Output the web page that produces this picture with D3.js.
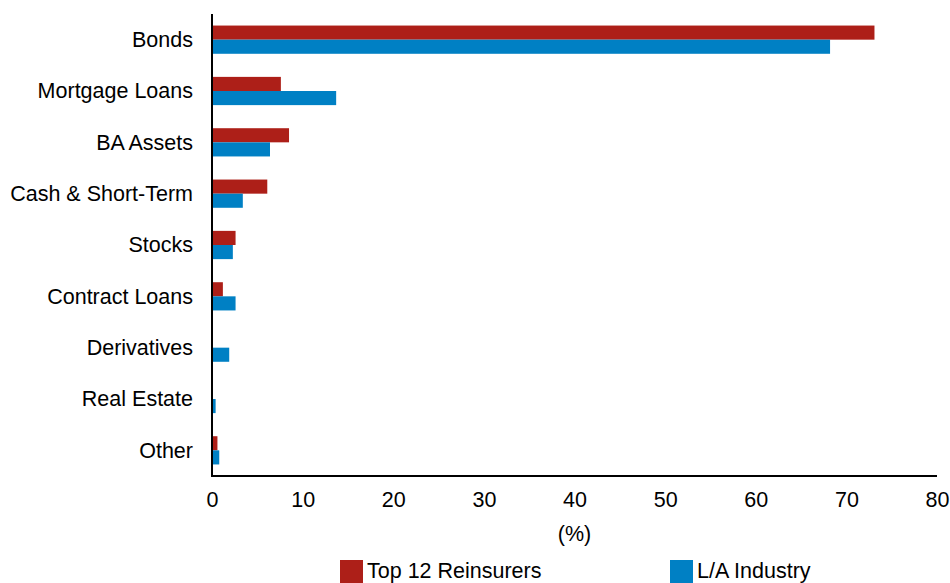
<!DOCTYPE html>
<html><head><meta charset="utf-8">
<script src="https://cdn.jsdelivr.net/npm/d3@7"></script>
<style>body{margin:0;background:#fff}svg{display:block}text{font-family:"Liberation Sans",Arial,sans-serif;fill:#000}</style>
</head><body>
<svg id="c" width="950" height="583"></svg>
<script>
const categories = ["Bonds","Mortgage Loans","BA Assets","Cash & Short-Term","Stocks","Contract Loans","Derivatives","Real Estate","Other"];
const seriesNames = ["Top 12 Reinsurers","L/A Industry"];
const top12 = [73.1, 7.6, 8.5, 6.1, 2.6, 1.2, 0, 0, 0.6];
const laIndustry = [68.2, 13.7, 6.4, 3.4, 2.3, 2.6, 1.9, 0.4, 0.8];
const xTicks = [0,10,20,30,40,50,60,70,80];
const colors = ["#AD1F18","#0080C4"];

const FS = "21.5px";
const svg = d3.select("#c");
const m = {left:212, right:937, top:14, bottom:476};
const x = d3.scaleLinear().domain([0,80]).range([m.left, m.right]);
const y = d3.scaleBand().domain(categories).range([m.top, m.bottom]).paddingInner(0.45).paddingOuter(0.225);
const ys = d3.scaleBand().domain(seriesNames).range([0, y.bandwidth()]);
const data = [top12, laIndustry];

categories.forEach((c,i)=>{
  seriesNames.forEach((s,j)=>{
    const v = data[j][i];
    if (v>0) svg.append("rect").attr("x",x(0)).attr("y",y(c)+ys(s)).attr("width",x(v)-x(0)).attr("height",ys.bandwidth()).attr("fill",colors[j]);
  });
});

const yAxis = svg.append("g").attr("transform",`translate(${m.left},0)`).call(d3.axisLeft(y).tickSize(0).tickPadding(19));
yAxis.select(".domain").remove();
yAxis.selectAll("text").style("font-size",FS).style("font-family","Liberation Sans, Arial, sans-serif").attr("dy","0.34em");

const xAxis = svg.append("g").attr("transform",`translate(0,${m.bottom})`).call(d3.axisBottom(x).tickValues(xTicks).tickSize(0).tickPadding(16));
xAxis.select(".domain").remove();
xAxis.selectAll("text").style("font-size",FS).style("font-family","Liberation Sans, Arial, sans-serif");

svg.append("line").attr("x1",m.left).attr("x2",m.left).attr("y1",m.top).attr("y2",m.bottom+1).attr("stroke","#000").attr("stroke-width",2);
svg.append("line").attr("x1",m.left-1).attr("x2",m.right).attr("y1",m.bottom).attr("y2",m.bottom).attr("stroke","#000").attr("stroke-width",2);

svg.append("text").attr("x",(m.left+m.right)/2).attr("y",541).attr("text-anchor","middle").style("font-size",FS).text("(%)");

const legX = [340, 670];
seriesNames.forEach((s,j)=>{
  svg.append("rect").attr("x",legX[j]).attr("y",560).attr("width",23).attr("height",23).attr("fill",colors[j]);
  svg.append("text").attr("x",legX[j]+27).attr("y",577.5).style("font-size",FS).text(s);
});
</script>
</body></html>
